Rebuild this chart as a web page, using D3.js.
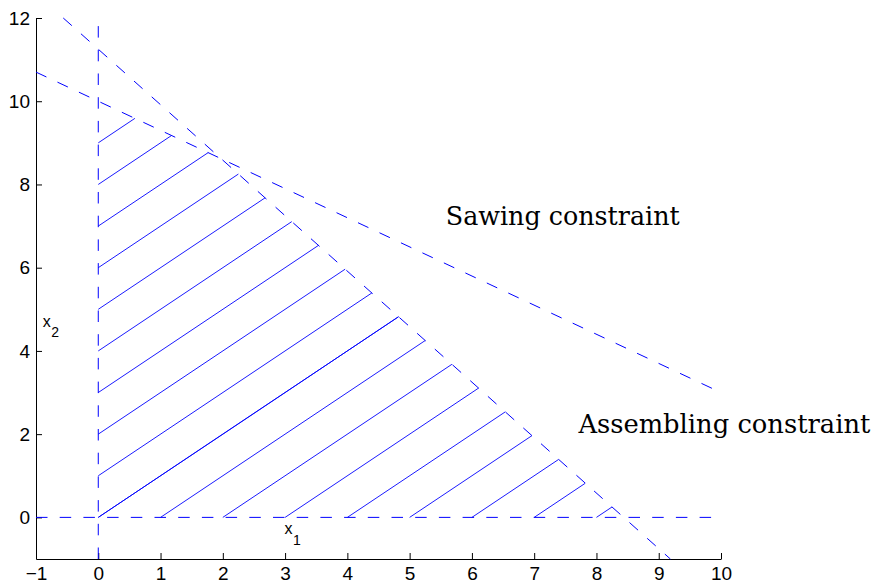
<!DOCTYPE html>
<html>
<head>
<meta charset="utf-8">
<script src="https://cdn.jsdelivr.net/npm/d3@7"></script>
<style>
  html, body { margin: 0; padding: 0; background: #fff; }
  svg { display: block; }
</style>
</head>
<body>
<svg id="chart" width="877" height="583"></svg>
<script>
// ---- data ----
const xDomain = [-1, 10];
const yDomain = [-1, 12];
const xTicks = [-1, 0, 1, 2, 3, 4, 5, 6, 7, 8, 9, 10];
const yTicks = [0, 2, 4, 6, 8, 10, 12];

// constraint lines (drawn dashed), endpoints in data units
const sawingX = [-1, 10];
const sawingY = [10.7, 3.0];
const assemblingX = [-0.5625, 9.1875];
const assemblingY = [12, -1];

// dashed coordinate axes through the origin
const axisX1 = [-1, 10];
const axisY1 = [0, 0];
const axisX2 = [0, 0];
const axisY2 = [-1, 12];

// hatch lines (slope 1) start on the x2-axis and on the x1-axis
const hatchStartX2 = [0, 1, 2, 3, 4, 5, 6, 7, 8, 9];
const hatchStartX1 = [0, 1, 2, 3, 4, 5, 6, 7, 8];
const hatchSlope = 1;

// annotations [x, y(baseline)] in data units
const labelTexts = ["Sawing constraint", "Assembling constraint"];
const labelX = [5.58, 7.71];
const labelY = [7.03, 2.02];
const axisLabelMain = ["x", "x"];
const axisLabelSub = ["1", "2"];
const axisLabelX = [2.99, -0.89];
const axisLabelY = [-0.41, 4.58];

// ---- layout ----
const W = 877, H = 583;
const margin = { left: 36, right: 156, top: 18, bottom: 24 };
const blue = "#0000ff";

const svg = d3.select("#chart");
const x = d3.scaleLinear().domain(xDomain).range([margin.left, W - margin.right]);
const y = d3.scaleLinear().domain(yDomain).range([H - margin.bottom, margin.top]);

const fmt = d => (d < 0 ? "\u2212" + Math.abs(d) : String(d));

// axes (left and bottom only, inward ticks)
const gx = svg.append("g")
  .attr("transform", `translate(0,${H - margin.bottom})`)
  .call(d3.axisBottom(x).tickValues(xTicks).tickFormat(fmt).tickSizeInner(-6).tickSizeOuter(0).tickPadding(7.5));
const gy = svg.append("g")
  .attr("transform", `translate(${margin.left},0)`)
  .call(d3.axisLeft(y).tickValues(yTicks).tickFormat(fmt).tickSizeInner(-6).tickSizeOuter(0).tickPadding(6));
[gx, gy].forEach(g => {
  g.selectAll("path.domain").attr("stroke", "#000").attr("stroke-width", 1);
  g.selectAll(".tick line").attr("stroke", "#000").attr("stroke-width", 1);
  g.selectAll(".tick text")
    .attr("fill", "#000")
    .style("font-family", "'Liberation Sans', Arial, Helvetica, sans-serif")
    .style("font-size", "19px");
});

const line = d3.line().x(d => x(d[0])).y(d => y(d[1]));
const zip = (a, b) => a.map((v, i) => [v, b[i]]);

// dashed lines
const dashed = [
  zip(axisX1, axisY1),
  zip(axisX2, axisY2),
  zip(sawingX, sawingY),
  zip(assemblingX, assemblingY)
];
svg.append("g").selectAll("path").data(dashed).join("path")
  .attr("d", line)
  .attr("fill", "none")
  .attr("stroke", blue)
  .attr("stroke-width", 1)
  .attr("stroke-dasharray", "11.5,12.2");

// end point of a hatch line: where it meets the lower of the two constraint lines
function hatchEnd(x0, y0) {
  const cands = [[sawingX, sawingY], [assemblingX, assemblingY]].map(([xs, ys]) => {
    const m = (ys[1] - ys[0]) / (xs[1] - xs[0]);
    const b = ys[0] - m * xs[0];
    return (b - y0 + hatchSlope * x0) / (hatchSlope - m);
  });
  const t = Math.min(...cands);
  return [t, y0 + hatchSlope * (t - x0)];
}

const hatch = [];
hatchStartX2.forEach(v => hatch.push([[0, v], hatchEnd(0, v)]));
hatchStartX1.forEach(v => hatch.push([[v, 0], hatchEnd(v, 0)]));
svg.append("g").selectAll("path").data(hatch).join("path")
  .attr("d", line)
  .attr("fill", "none")
  .attr("stroke", blue)
  .attr("stroke-width", 0.9);

// serif annotations, fitted to the widths seen in the picture
const targetWidths = [234, 292];
labelTexts.forEach((t, i) => {
  const el = svg.append("text")
    .attr("x", x(labelX[i]))
    .attr("y", y(labelY[i]))
    .attr("fill", "#000")
    .style("font-family", "'DejaVu Serif', 'Liberation Serif', serif")
    .style("font-size", "21px")
    .text(t);
  const w = el.node().getComputedTextLength();
  if (w > 0) el.style("font-size", (21 * targetWidths[i] / w).toFixed(2) + "px");
});

// axis variable labels with subscripts
axisLabelMain.forEach((t, i) => {
  const el = svg.append("text")
    .attr("x", x(axisLabelX[i]))
    .attr("y", y(axisLabelY[i]))
    .attr("fill", "#000")
    .style("font-family", "'Liberation Sans', Arial, Helvetica, sans-serif")
    .style("font-size", "16px")
    .text(t);
  el.append("tspan")
    .attr("dy", 10.5)
    .attr("dx", 0.5)
    .style("font-size", "14px")
    .text(axisLabelSub[i]);
});
</script>
</body>
</html>
